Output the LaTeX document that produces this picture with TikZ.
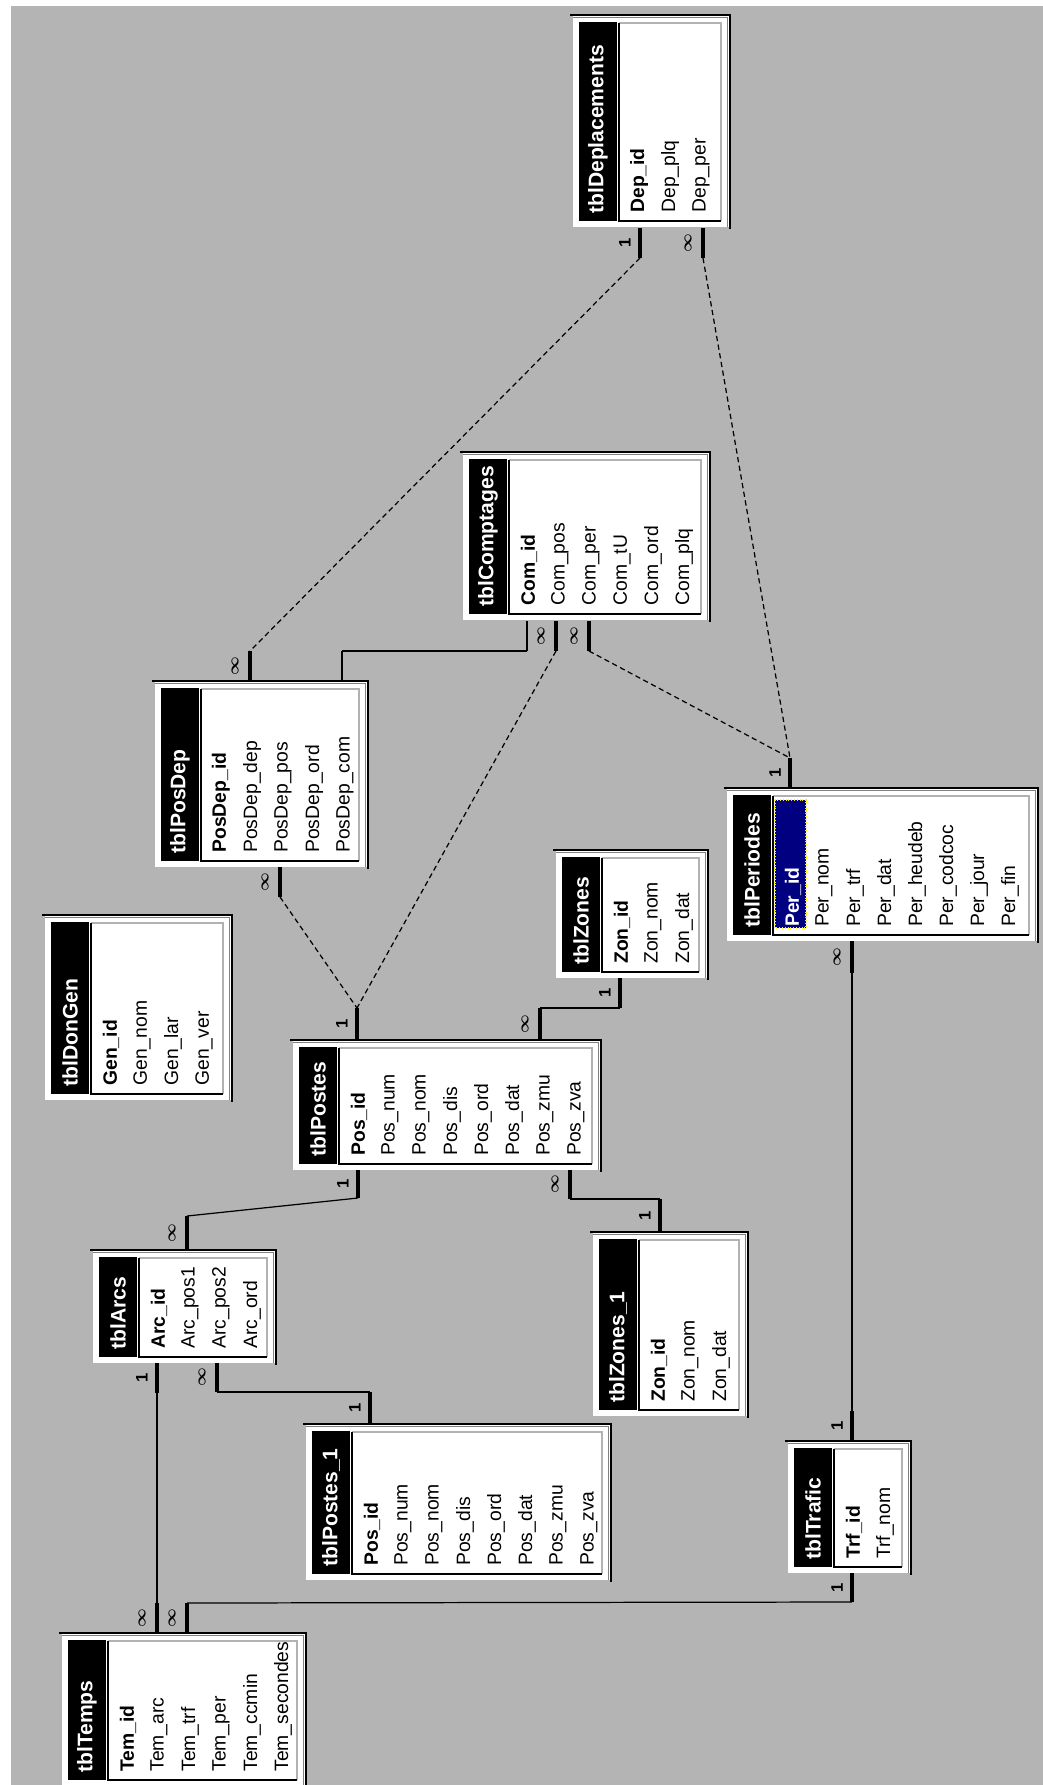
\documentclass[tikz,border=0pt]{standalone}
\usepackage{fontspec}
\setmainfont{Liberation Sans}
\usetikzlibrary{fit}

\definecolor{accgray}{RGB}{180,180,180}
\definecolor{accnavy}{RGB}{0,0,128}

\tikzset{
  tblbox/.style={fill=white, inner sep=0pt},
  tbltitle/.style={rotate=90, anchor=west, inner sep=0pt, text=white, font=\bfseries\fontsize{12}{12}\selectfont},
  fld/.style={rotate=90, anchor=west, inner sep=0pt, font=\fontsize{11}{11}\selectfont},
  keyfld/.style={fld, font=\bfseries\fontsize{11}{11}\selectfont},
  mult/.style={rotate=90, inner sep=0pt, font=\bfseries\boldmath\fontsize{9.5}{9.5}\selectfont},
  bar/.style={line width=2.6pt},
  rel/.style={line width=0.7pt},
  reldash/.style={rel, densely dashed}
}

% name, left, top, right, bottom, title, key field, other fields, extra drawing
\newcommand{\acctbl}[9]{
  \node[tblbox, fit={(#2,#3) (#4,#5)}] (#1) {};
  \draw[gray, line width=0.6pt] (#2,#3+2.5) -- (#4-2.5,#3+2.5) -- (#4-2.5,#5);
  \draw[line width=1.1pt] (#2-3,#3) -- (#4,#3) -- (#4,#5+2);
  \fill[black] (#2+6,#3+7) rectangle (#2+44,#5-6);
  \draw[gray!60, line width=0.6pt] (#2+46,#3+8) -- (#4-9,#3+8) -- (#4-9,#5-6);
  \draw[line width=1.1pt] (#2+46,#3+8) -- (#2+46,#5-6) -- (#4-9,#5-6);
  #9
  \node[tbltitle] (#1-title) at (#2+25,#5-13) {#6};
  \node[keyfld] (#1-0) at (#2+66,#5-14) {#7};
  \foreach \f [count=\i] in {#8} {
    \node[fld] (#1-\i) at (#2+66+31*\i,#5-14) {\f};
  }
}

% name, x, y at table, y at end, multiplicity
\newcommand{\stub}[5]{
  \draw[bar] (#2,#3) -- (#2,#4) coordinate (#1);
  \node[mult] (#1-m) at (#2-15,{(#3+#4)/2}) {#5};
}
\newcommand{\many}{$\infty$}

\begin{document}
\begin{tikzpicture}[x=0.02cm, y=-0.02cm]
\useasboundingbox (0,0) rectangle (1043,1785);
\fill[white] (0,0) rectangle (1043,1785);
\fill[accgray] (11,6) rectangle (1043,1785);

\acctbl{dep}{573}{15}{730}{227}{tblDeplacements}{Dep\_id}{Dep\_plq,Dep\_per}{}
\acctbl{com}{463}{452}{710}{620}{tblComptages}{Com\_id}{Com\_pos,Com\_per,Com\_tU,Com\_ord,Com\_plq}{}
\acctbl{posdep}{155}{681}{368}{867}{tblPosDep}{PosDep\_id}{PosDep\_dep,PosDep\_pos,PosDep\_ord,PosDep\_com}{}
\acctbl{dongen}{45}{915}{232}{1100}{tblDonGen}{Gen\_id}{Gen\_nom,Gen\_lar,Gen\_ver}{}
\acctbl{zones}{556}{850}{708}{978}{tblZones}{Zon\_id}{Zon\_nom,Zon\_dat}{}
\begin{scope}[keyfld/.append style={text=white}]
\acctbl{per}{727}{788}{1038}{941}{tblPeriodes}{Per\_id}{Per\_nom,Per\_trf,Per\_dat,Per\_heudeb,Per\_codcoc,Per\_jour,Per\_fin}{
  \fill[accnavy] (775,800) rectangle (806,928);
  \draw[yellow, densely dotted, line width=0.6pt] (775,800) rectangle (806,928);}
\end{scope}
\acctbl{pos}{293}{1040}{601}{1170}{tblPostes}{Pos\_id}{Pos\_num,Pos\_nom,Pos\_dis,Pos\_ord,Pos\_dat,Pos\_zmu,Pos\_zva}{}
\acctbl{arc}{93}{1250}{276}{1363}{tblArcs}{Arc\_id}{Arc\_pos1,Arc\_pos2,Arc\_ord}{}
\acctbl{zonesb}{593}{1232}{748}{1416}{tblZones\_1}{Zon\_id}{Zon\_nom,Zon\_dat}{}
\acctbl{posb}{306}{1424}{611}{1580}{tblPostes\_1}{Pos\_id}{Pos\_num,Pos\_nom,Pos\_dis,Pos\_ord,Pos\_dat,Pos\_zmu,Pos\_zva}{}
\acctbl{trf}{788}{1441}{911}{1573}{tblTrafic}{Trf\_id}{Trf\_nom}{}
\acctbl{tem}{62}{1633}{306}{1786}{tblTemps}{Tem\_id}{Tem\_arc,Tem\_trf,Tem\_per,Tem\_ccmin,Tem\_secondes}{}

\stub{dep1}{640}{228}{258}{1}
\stub{dep2}{703}{228}{258}{\many}
\stub{pdtop}{250}{681}{651}{\many}
\stub{compos}{556}{621}{651}{\many}
\stub{comper}{589}{621}{651}{\many}
\stub{pertop}{790}{788}{758}{1}
\stub{pdbot}{280}{867}{897}{\many}
\stub{postop}{357}{1040}{1008}{1}
\stub{posztop}{540}{1040}{1008}{\many}
\stub{zonbot}{620}{978}{1008}{1}
\stub{posbot}{358}{1170}{1198}{1}
\stub{poszbot}{570}{1170}{1199}{\many}
\stub{zonbtop}{660}{1232}{1199}{1}
\stub{arctop}{187}{1250}{1216}{\many}
\stub{arcbot}{157}{1363}{1393}{1}
\stub{arcpos}{217}{1363}{1392}{\many}
\stub{posbtop}{370}{1424}{1392}{1}
\stub{perbot}{852}{941}{973}{\many}
\stub{trftop}{852}{1441}{1411}{1}
\stub{trfbot}{852}{1573}{1602}{1}
\stub{temarc}{157}{1633}{1603}{\many}
\stub{temtrf}{187}{1633}{1603}{\many}

\draw[rel] (342,681) coordinate (pdcom) -- (342,651) coordinate (pdcomend);
\draw[rel] (527,621) coordinate (comid) -- (527,651) coordinate (comidend);

\draw[reldash] (dep1) -- (pdtop);
\draw[reldash] (dep2) -- (pertop);
\draw[rel] (pdcomend) -- (comidend);
\draw[reldash] (compos) -- (postop);
\draw[reldash] (pdbot) -- (postop);
\draw[reldash] (comper) -- (pertop);
\draw[rel] (posztop) -- (zonbot);
\draw[rel] (posbot) -- (arctop);
\draw[rel] (poszbot) -- (zonbtop);
\draw[rel] (arcbot) -- (temarc);
\draw[rel] (arcpos) -- (posbtop);
\draw[rel] (perbot) -- (trftop);
\draw[rel] (trfbot) -- (temtrf);
\end{tikzpicture}
\end{document}
